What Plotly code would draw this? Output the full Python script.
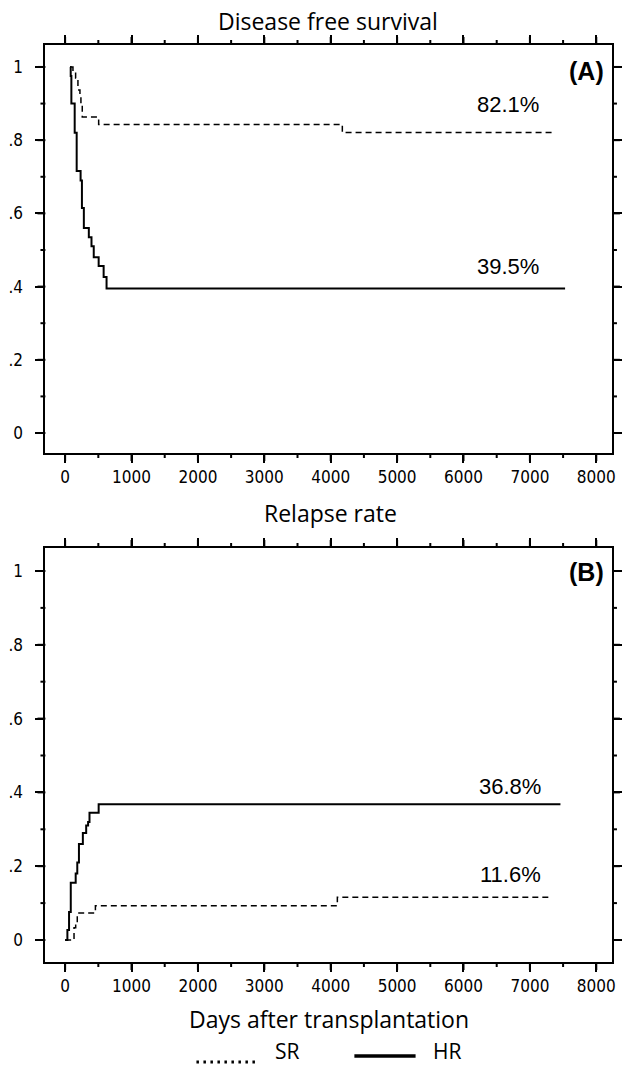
import plotly.graph_objects as go

# ---- Data ----
dfs_hr_days = [74, 84, 94, 144, 174, 233, 253, 282, 357, 397, 431, 505, 580, 624, 7530]
dfs_hr_surv = [1.0, 0.975, 0.90, 0.82, 0.716, 0.69, 0.615, 0.56, 0.535, 0.51, 0.48, 0.456, 0.426, 0.395, 0.395]

dfs_sr_days = [90, 118, 158, 193, 223, 238, 258, 505, 4175, 7370]
dfs_sr_surv = [1.0, 0.986, 0.97, 0.937, 0.918, 0.90, 0.863, 0.843, 0.821, 0.821]

rel_hr_days = [0, 34, 59, 85, 159, 183, 208, 267, 317, 346, 367, 505, 7460]
rel_hr_rate = [0, 0.027, 0.076, 0.155, 0.18, 0.21, 0.26, 0.29, 0.31, 0.32, 0.345, 0.368, 0.368]

rel_sr_days = [0, 134, 159, 183, 456, 4100, 7280]
rel_sr_rate = [0, 0.033, 0.046, 0.073, 0.093, 0.116, 0.116]

x_ticks = [0, 1000, 2000, 3000, 4000, 5000, 6000, 7000, 8000]
x_minor_ticks = [500, 1500, 2500, 3500, 4500, 5500, 6500, 7500]
y_tickvals = [0, 0.2, 0.4, 0.6, 0.8, 1.0]
y_minor_ticks = [0.1, 0.3, 0.5, 0.7, 0.9]
y_ticktext = ["0", ".2", ".4", ".6", ".8", "1"]

panel_titles = ["Disease free survival", "Relapse rate"]
x_title = "Days after transplantation"
panel_tags = ["(A)", "(B)"]
final_labels_top = ["82.1%", "39.5%"]
final_labels_bottom = ["36.8%", "11.6%"]
legend_names = ["SR", "HR"]

W, H = 622, 1068

fig = go.Figure()

solid = dict(color="black", width=2)
dashed = dict(color="black", width=1.5, dash="6px,4px")

fig.add_trace(go.Scatter(x=dfs_sr_days, y=dfs_sr_surv, mode="lines", line=dashed,
                         line_shape="hv", xaxis="x", yaxis="y", showlegend=False))
fig.add_trace(go.Scatter(x=dfs_hr_days, y=dfs_hr_surv, mode="lines", line=solid,
                         line_shape="hv", xaxis="x", yaxis="y", showlegend=False))
fig.add_trace(go.Scatter(x=rel_sr_days, y=rel_sr_rate, mode="lines", line=dashed,
                         line_shape="hv", xaxis="x2", yaxis="y2", showlegend=False))
fig.add_trace(go.Scatter(x=rel_hr_days, y=rel_hr_rate, mode="lines", line=solid,
                         line_shape="hv", xaxis="x2", yaxis="y2", showlegend=False))

tick_font = dict(family="DejaVu Sans Condensed, Liberation Sans Narrow, sans-serif", size=17, color="black")

xaxis_common = dict(
    range=[-297, 8237], tickmode="array", tickvals=x_ticks, ticks="outside", ticklen=8, tickwidth=2,
    tickcolor="black", showline=True, linecolor="black", linewidth=2, mirror="ticks",
    showgrid=False, zeroline=False, tickfont=tick_font,
    domain=[46 / W, 620 / W],
)
yaxis_common = dict(
    tickmode="array", tickvals=y_tickvals, ticktext=y_ticktext, ticks="outside", ticklen=8, tickwidth=2,
    tickcolor="black", showline=True, linecolor="black", linewidth=2, mirror="ticks",
    showgrid=False, zeroline=False, tickfont=tick_font, ticklabelstandoff=9,
)

top_dom = [1 - 453 / H, 1 - 45 / H]
bot_dom = [1 - 962 / H, 1 - 548 / H]

fig.update_layout(
    width=W, height=H,
    margin=dict(l=0, r=0, t=0, b=0),
    paper_bgcolor="white", plot_bgcolor="white",
    xaxis=dict(**xaxis_common, anchor="y"),
    yaxis=dict(**yaxis_common, range=[-0.0546, 1.060], domain=top_dom, anchor="x"),
    xaxis2=dict(**xaxis_common, anchor="y2"),
    yaxis2=dict(**yaxis_common, range=[-0.0596, 1.0623], domain=bot_dom, anchor="x2"),
)

# explicit frame ticks on all four sides (drawn through the axes' scales)
plot_w = (xaxis_common["domain"][1] - xaxis_common["domain"][0]) * W
tick_line = dict(color="black", width=2)
for xa, ya, dom in [("x", "y", top_dom), ("x2", "y2", bot_dom)]:
    plot_h = (dom[1] - dom[0]) * H
    for vals, ln in [(x_ticks, 8), (x_minor_ticks, 5)]:
        for v in vals:
            fig.add_shape(type="line", xref=xa, yref=ya + " domain", x0=v, x1=v,
                          y0=0, y1=-ln / plot_h, line=tick_line)
            fig.add_shape(type="line", xref=xa, yref=ya + " domain", x0=v, x1=v,
                          y0=1, y1=1 + ln / plot_h, line=tick_line)
    for vals, ln in [(y_tickvals, 8), (y_minor_ticks, 5)]:
        for v in vals:
            fig.add_shape(type="line", xref=xa + " domain", yref=ya, x0=0, x1=-ln / plot_w,
                          y0=v, y1=v, line=tick_line)
            fig.add_shape(type="line", xref=xa + " domain", yref=ya, x0=1, x1=1 + ln / plot_w,
                          y0=v, y1=v, line=tick_line)

title_font = dict(family="Open Sans, sans-serif", size=23, color="black")
leg_font = dict(family="Open Sans, sans-serif", size=21, color="black")
num_font = dict(family="Liberation Sans, Arial, sans-serif", size=22, color="black")
tag_font = dict(family="Liberation Sans, Arial, sans-serif", size=25, color="black")


def paper_text(text, px, py, font, xa="center", ya="middle"):
    return dict(text=text, x=px / W, y=1 - py / H, xref="paper", yref="paper",
                showarrow=False, font=font, xanchor=xa, yanchor=ya)


ann = [
    paper_text(panel_titles[0], 332, 21, title_font),
    paper_text(panel_titles[1], 335, 513, title_font),
    paper_text(x_title, 333, 1019, title_font),
    paper_text("<b>" + panel_tags[0] + "</b>", 594, 71, tag_font),
    paper_text("<b>" + panel_tags[1] + "</b>", 594, 572, tag_font),
    paper_text(final_labels_top[0], 515, 104, num_font),
    paper_text(final_labels_top[1], 515, 266, num_font),
    paper_text(final_labels_bottom[0], 517, 786, num_font),
    paper_text(final_labels_bottom[1], 517, 874, num_font),
    paper_text(legend_names[0], 277, 1067, leg_font, xa="left", ya="bottom"),
    paper_text(legend_names[1], 437, 1067, leg_font, xa="left", ya="bottom"),
]
fig.update_layout(annotations=ann)

fig.add_shape(type="line", xref="paper", yref="paper", x0=199 / W, x1=261 / W,
              y0=1 - 1062 / H, y1=1 - 1062 / H, line=dict(color="black", width=3, dash="2.5px,4.5px"))
fig.add_shape(type="line", xref="paper", yref="paper", x0=359 / W, x1=421 / W,
              y0=1 - 1056 / H, y1=1 - 1056 / H, line=dict(color="black", width=3.5))

fig.write_html("out.html")
